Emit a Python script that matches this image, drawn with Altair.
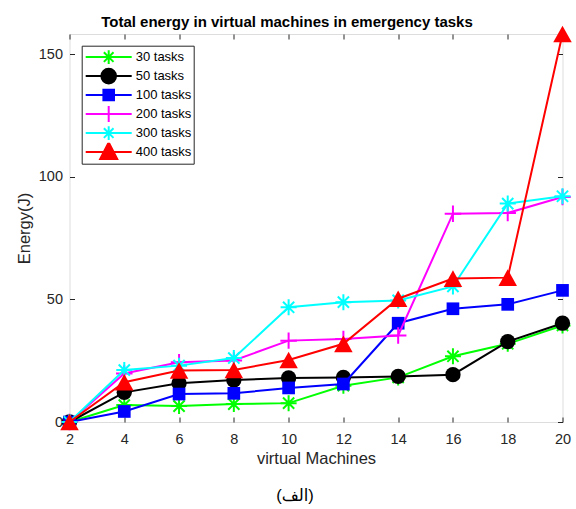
import altair as alt
import pandas as pd

# ---------------- data ----------------
vms = [2, 4, 6, 8, 10, 12, 14, 16, 18, 20]
series_names = ["30 tasks", "50 tasks", "100 tasks", "200 tasks", "300 tasks", "400 tasks"]
t30 = [0, 6.9, 6.5, 7.3, 7.7, 14.8, 18.2, 26.8, 31.9, 39.4]
t50 = [0, 12.1, 15.8, 17.1, 18.0, 18.2, 18.6, 19.3, 32.8, 40.3]
t100 = [0, 4.3, 11.4, 11.7, 13.9, 15.5, 40.3, 46.2, 48.0, 53.7]
t200 = [0, 19.8, 24.4, 25.1, 33.2, 33.9, 35.3, 85.0, 85.3, 91.8]
t300 = [0, 21.2, 23.0, 26.1, 46.8, 48.9, 49.6, 55.3, 89.1, 92.1]
t400 = [0, 16.2, 21.0, 21.2, 25.3, 31.9, 50.3, 58.5, 58.9, 158.3]
all_values = [t30, t50, t100, t200, t300, t400]
colors = ["#00ff00", "#000000", "#0000ff", "#ff00ff", "#00ffff", "#ff0000"]
y_ticks = [0, 50, 100, 150]

rows = []
for name, vals in zip(series_names, all_values):
    for x, v in zip(vms, vals):
        rows.append({"vm": x, "energy": v, "series": name})
df = pd.DataFrame(rows)

# ---------------- style ----------------
W, H = 493, 388
FONT = "Liberation Sans"
AX = "#262626"

ASTER = "M-1,0L1,0M0,-1L0,1M-0.7,-0.7L0.7,0.7M-0.7,0.7L0.7,-0.7"
PLUS = "M-1,0L1,0M0,-1L0,1"
TRI = "M0,-0.9L1,0.9L-1,0.9Z"
plot_shapes = [ASTER, "circle", "square", PLUS, ASTER, TRI]
plot_sizes = [256, 234, 161, 272, 256, 342]
plot_filled = [False, True, True, False, False, True]

LINE = "M-1,0L1,0"
leg_aster = LINE + "M-0.3,0L0.3,0M0,-0.3L0,0.3M-0.21,-0.21L0.21,0.21M-0.21,0.21L0.21,-0.21"
leg_circle = LINE + "M0.32,0A0.32,0.32 0 1,1 -0.32,0A0.32,0.32 0 1,1 0.32,0Z"
leg_square = LINE + "M-0.23,-0.23L0.23,-0.23L0.23,0.23L-0.23,0.23Z"
leg_plus = LINE + "M-0.35,0L0.35,0M0,-0.35L0,0.35"
leg_tri = LINE + "M0,-0.42L0.37,0.3L-0.37,0.3Z"
legend_shapes = [leg_aster, leg_circle, leg_square, leg_plus, leg_aster, leg_tri]

xs = alt.Scale(domain=[2, 20], nice=False, zero=False)
ys = alt.Scale(domain=[0, 158.3], nice=False, zero=False)


def tick_axis(orient):
    return alt.Axis(orient=orient, offset=-(H if orient in ("top", "bottom") else W),
                    labels=False, domain=False, grid=False, ticks=True, tickSize=5,
                    tickColor=AX, tickWidth=1, title=None,
                    values=(vms if orient in ("top", "bottom") else y_ticks))


x_main = alt.Axis(orient="bottom", values=vms, format="d", ticks=False, domain=False,
                  grid=False, labelFont=FONT, labelFontSize=14.5, labelColor=AX,
                  labelPadding=10, labelFlush=False, title="virtual Machines",
                  titleFont=FONT, titleFontSize=16.5, titleFontWeight="normal",
                  titleColor=AX, titlePadding=5)
y_main = alt.Axis(orient="left", values=y_ticks, format="d", ticks=False, domain=False,
                  grid=False, labelFont=FONT, labelFontSize=14.5, labelColor=AX,
                  labelPadding=7, labelFlush=False, title="Energy(J)",
                  titleFont=FONT, titleFontSize=16.5, titleFontWeight="normal",
                  titleColor=AX, titlePadding=6)
x_caption = alt.Axis(orient="bottom", labels=False, ticks=False, domain=False, grid=False,
                     title="(الف)", titleX=225, titleY=73, titleBaseline="middle",
                     titleAlign="center", titleFont="Liberation Sans, DejaVu Sans",
                     titleFontSize=16.5, titleFontWeight="normal", titleColor="black")

x_axes = [x_main, tick_axis("top"), tick_axis("bottom"), x_caption, None, None]
y_axes = [y_main, tick_axis("right"), tick_axis("left"), None, None, None]

layers = []
for i, name in enumerate(series_names):
    base = alt.Chart(df).transform_filter(alt.datum.series == name)
    line = base.mark_line(color=colors[i], strokeWidth=2).encode(
        x=alt.X("vm:Q", scale=xs, axis=x_axes[i]),
        y=alt.Y("energy:Q", scale=ys, axis=y_axes[i]),
    )
    if plot_filled[i]:
        pts = base.mark_point(shape=plot_shapes[i], size=plot_sizes[i], filled=True,
                              color=colors[i], opacity=1, strokeWidth=0)
    else:
        pts = base.mark_point(shape=plot_shapes[i], size=plot_sizes[i], filled=False,
                              color=colors[i], opacity=1, strokeWidth=2)
    pts = pts.encode(
        x=alt.X("vm:Q", scale=xs, axis=None),
        y=alt.Y("energy:Q", scale=ys, axis=None),
    )
    layers += [line, pts]

leg = alt.Legend(orient="none", legendX=12.2, legendY=11.7, direction="vertical",
                 title=None, padding=2, rowPadding=0, clipHeight=18.7,
                 symbolSize=2116, symbolStrokeWidth=2, symbolOffset=1, labelOffset=3,
                 labelFont=FONT, labelFontSize=13, labelColor="black", labelLimit=300,
                 strokeColor=AX, fillColor="white", cornerRadius=0)

legend_layer = alt.Chart(df).transform_filter("false").mark_point(
    size=2116, strokeWidth=2, opacity=1
).encode(
    x=alt.X("vm:Q", scale=xs, axis=None),
    y=alt.Y("energy:Q", scale=ys, axis=None),
    fill=alt.Fill("series:N", scale=alt.Scale(domain=series_names, range=colors), legend=leg),
    stroke=alt.Stroke("series:N", scale=alt.Scale(domain=series_names, range=colors), legend=leg),
    shape=alt.Shape("series:N", scale=alt.Scale(domain=series_names, range=legend_shapes), legend=leg),
)
layers.append(legend_layer)

chart = alt.layer(*layers).resolve_axis(x="independent", y="independent").properties(
    width=W, height=H,
    autosize=alt.AutoSizeParams(type="none"),
    padding={"left": 69.5, "top": 34, "right": 13.5, "bottom": 87},
    title=alt.TitleParams("Total energy in virtual machines in emergency tasks",
                          font=FONT, fontSize=15, fontWeight="bold", color="black",
                          anchor="middle", frame="group", dx=-29, dy=24.5, offset=8,
                          baseline="alphabetic"),
).configure_view(stroke=AX, strokeWidth=1).configure(background="white")

chart.save("out.html", embed_options={"renderer": "svg", "actions": False})
